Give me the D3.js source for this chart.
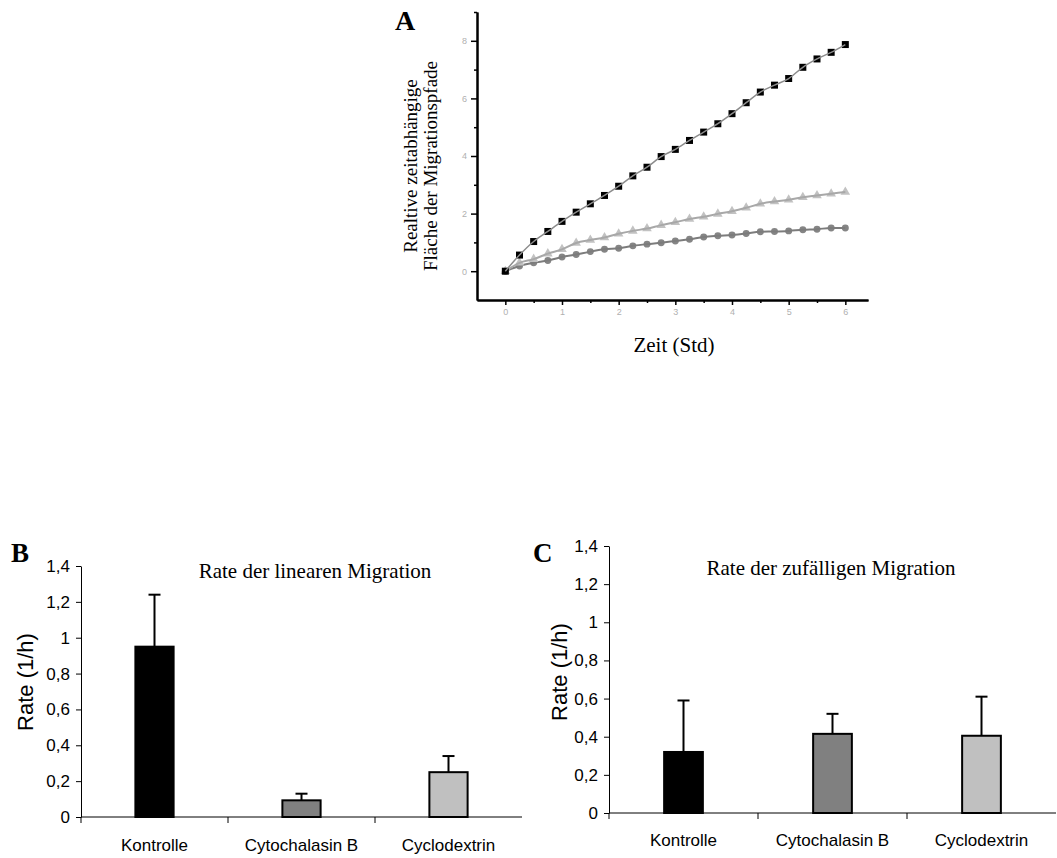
<!DOCTYPE html>
<html><head><meta charset="utf-8">
<script src="https://cdn.jsdelivr.net/npm/d3@7"></script>
<style>body{margin:0;background:#fff} svg{display:block}</style>
</head><body>
<svg id="c" width="1057" height="858"></svg>
<script>
// ---------- Panel A data ----------
const timeA = [0,0.25,0.5,0.75,1,1.25,1.5,1.75,2,2.25,2.5,2.75,3,3.25,3.5,3.75,4,4.25,4.5,4.75,5,5.25,5.5,5.75,6];
const kontrolleA = [0,0.56,1.03,1.38,1.73,2.05,2.34,2.63,2.95,3.31,3.61,3.98,4.23,4.54,4.83,5.12,5.47,5.85,6.22,6.46,6.69,7.08,7.37,7.6,7.87];
const cyclodextrinA = [0,0.29,0.42,0.61,0.76,0.98,1.08,1.17,1.3,1.4,1.48,1.6,1.7,1.81,1.89,1.99,2.08,2.2,2.34,2.42,2.48,2.57,2.63,2.69,2.75];
const cytochalasinA = [0,0.18,0.29,0.37,0.49,0.58,0.68,0.76,0.8,0.88,0.94,0.99,1.05,1.11,1.19,1.23,1.26,1.31,1.37,1.38,1.4,1.44,1.46,1.5,1.5];
const yTicksA = [0,2,4,6,8];
const yMinorA = [1,3,5,7,9];
const xTicksA = [0,1,2,3,4,5,6];
const xMinorA = [0.5,1.5,2.5,3.5,4.5,5.5];

// ---------- Panels B / C data ----------
const categories = ["Kontrolle","Cytochalasin B","Cyclodextrin"];
const linearRate = [0.95,0.093,0.25];
const linearErr = [0.29,0.037,0.09];
const randomRate = [0.32,0.415,0.405];
const randomErr = [0.27,0.105,0.205];
const barColors = ["#000000","#808080","#c0c0c0"];
const rateTicks = [0,0.2,0.4,0.6,0.8,1,1.2,1.4];
const rateTickLabels = ["0","0,2","0,4","0,6","0,8","1","1,2","1,4"];

const SANS = "'Liberation Sans', Arial, sans-serif";
const SERIF = "'Liberation Serif', 'Times New Roman', serif";
const svg = d3.select("#c");

// ================= Panel A =================
const xA = d3.scaleLinear().domain([-0.5,6.4]).range([477,868]);
const yA = d3.scaleLinear().domain([-1,9]).range([300,12]);
const gA = svg.append("g");

function styleAxisA(g){
  g.select(".domain").attr("stroke","#000").attr("stroke-width",2);
  g.selectAll(".tick line").attr("stroke","#000").attr("stroke-width",1.5);
  g.selectAll(".tick text").attr("fill","#b0b0b0").style("font-family",SANS).style("font-size","9px");
}
gA.append("g").attr("transform",`translate(${xA(-0.5)},0)`)
  .call(d3.axisLeft(yA).tickValues(yMinorA).tickSize(3).tickSizeOuter(0).tickFormat(""))
  .call(styleAxisA);
gA.append("g").attr("transform",`translate(${xA(-0.5)},0)`)
  .call(d3.axisLeft(yA).tickValues(yTicksA).tickSize(6).tickPadding(4).tickSizeOuter(0).tickFormat(d3.format("d")))
  .call(styleAxisA);
gA.append("g").attr("transform",`translate(0,${yA(-1)})`)
  .call(d3.axisBottom(xA).tickValues(xMinorA).tickSize(3).tickSizeOuter(0).tickFormat(""))
  .call(styleAxisA);
gA.append("g").attr("transform",`translate(0,${yA(-1)})`)
  .call(d3.axisBottom(xA).tickValues(xTicksA).tickSize(5).tickPadding(4).tickSizeOuter(0).tickFormat(d3.format("d")))
  .call(styleAxisA);

const seriesA = [
  {vals: cytochalasinA, sym: d3.symbolCircle, size: 38, fill:"#858585", line:"#7c7c7c", lw:2},
  {vals: cyclodextrinA, sym: d3.symbolTriangle, size: 40, fill:"#c2c2c2", line:"#a8a8a8", lw:2},
  {vals: kontrolleA, sym: d3.symbolSquare, size: 49, fill:"#000", line:"#8c8c8c", lw:1.5}
];
const lineA = d3.line().x(d=>xA(d.t)).y(d=>yA(d.v)).curve(d3.curveMonotoneX);
seriesA.forEach(s=>{
  const pts = timeA.map((t,i)=>({t, v:s.vals[i]}));
  gA.append("g").selectAll("path").data(pts).join("path")
    .attr("transform",d=>`translate(${xA(d.t)},${yA(d.v)})`)
    .attr("d",d3.symbol().type(s.sym).size(s.size))
    .attr("fill",s.fill);
  gA.append("path").datum(pts).attr("d",lineA)
    .attr("fill","none").attr("stroke",s.line).attr("stroke-width",s.lw);
});

gA.append("text").attr("x",395).attr("y",30).text("A")
  .style("font-family",SERIF).style("font-weight","bold").style("font-size","28px");
const yl = gA.append("text").attr("transform","translate(417,166) rotate(-90)")
  .attr("text-anchor","middle").style("font-family",SERIF).style("font-size","19px");
yl.append("tspan").attr("x",0).attr("dy",0).text("Realtive zeitabhängige");
yl.append("tspan").attr("x",0).attr("dy",20).text("Fläche der Migrationspfade");
gA.append("text").attr("x",674).attr("y",352).attr("text-anchor","middle")
  .style("font-family",SERIF).style("font-size","21px").text("Zeit (Std)");

// ================= Panels B & C =================
function barPanel(cfg){
  const g = svg.append("g");
  const x = d3.scaleBand().domain(categories).range(cfg.xr).padding(0);
  const y = d3.scaleLinear().domain([0,1.4]).range(cfg.yr);
  const ya = g.append("g").attr("transform",`translate(${cfg.xr[0]},0)`)
    .call(d3.axisLeft(y).tickValues(rateTicks).tickSize(5).tickPadding(6).tickSizeOuter(0)
      .tickFormat((d,i)=>rateTickLabels[i]));
  ya.select(".domain").attr("stroke","#000").attr("stroke-width",1);
  ya.selectAll(".tick line").attr("stroke","#000");
  ya.selectAll(".tick text").attr("fill","#000").style("font-family",SANS).style("font-size","17px");
  g.append("line").attr("x1",cfg.xr[0]).attr("x2",cfg.xr[1]).attr("y1",y(0)).attr("y2",y(0))
    .attr("stroke","#000").attr("stroke-width",1);
  g.selectAll("line.bt").data(categories).join("line").attr("class","bt")
    .attr("x1",d=>x(d)).attr("x2",d=>x(d)).attr("y1",y(0)).attr("y2",y(0)+6)
    .attr("stroke","#000").attr("stroke-width",1);
  g.selectAll("text.cat").data(categories).join("text").attr("class","cat")
    .attr("x",d=>x(d)+x.bandwidth()/2).attr("y",y(0)+cfg.labOff).attr("text-anchor","middle")
    .style("font-family",SANS).style("font-size","17px").text(d=>d);
  const bw = x.bandwidth()*0.26;
  categories.forEach((c,i)=>{
    const cx = x(c)+x.bandwidth()/2;
    const top = cfg.vals[i]+cfg.errs[i];
    g.append("line").attr("x1",cx).attr("x2",cx).attr("y1",y(cfg.vals[i])).attr("y2",y(top))
      .attr("stroke","#000").attr("stroke-width",2);
    g.append("line").attr("x1",cx-6).attr("x2",cx+6).attr("y1",y(top)).attr("y2",y(top))
      .attr("stroke","#000").attr("stroke-width",2);
  });
  g.selectAll("rect").data(categories).join("rect")
    .attr("x",d=>x(d)+x.bandwidth()/2-bw/2).attr("width",bw)
    .attr("y",(d,i)=>y(cfg.vals[i])).attr("height",(d,i)=>y(0)-y(cfg.vals[i]))
    .attr("fill",(d,i)=>barColors[i]).attr("stroke","#000").attr("stroke-width",2);
  g.append("text").attr("x",cfg.titleX).attr("y",cfg.titleY).attr("text-anchor","middle")
    .style("font-family",SERIF).style("font-size","21px").text(cfg.title);
  g.append("text").attr("transform",`translate(${cfg.ylx},${cfg.yly}) rotate(-90)`)
    .attr("text-anchor","middle").attr("dy","0.35em")
    .style("font-family",SANS).style("font-size","22px").text("Rate (1/h)");
  g.append("text").attr("x",cfg.letterX).attr("y",562).text(cfg.letter)
    .style("font-family",SERIF).style("font-weight","bold").style("font-size","27px");
}

barPanel({xr:[81,522], yr:[817,566], vals:linearRate, errs:linearErr, labOff:34,
  title:"Rate der linearen Migration", titleX:315, titleY:578, ylx:25, yly:682, letter:"B", letterX:11});
barPanel({xr:[609,1056], yr:[813,546], vals:randomRate, errs:randomErr, labOff:33,
  title:"Rate der zufälligen Migration", titleX:831, titleY:575, ylx:559, yly:672, letter:"C", letterX:533});
</script>
</body></html>
